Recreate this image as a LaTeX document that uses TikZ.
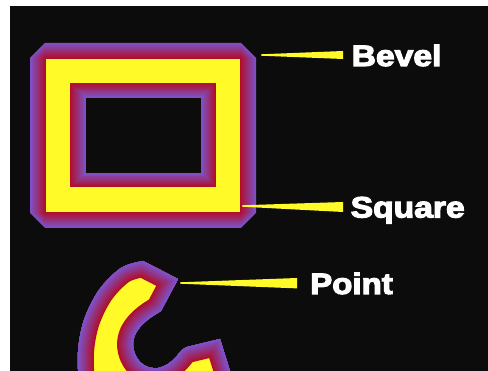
\documentclass[tikz,border=0pt]{standalone}
\usepackage{fontspec}
\newfontfamily\labfont{Liberation Sans}[BoldFeatures={FakeBold=3.6}]
\definecolor{bgc}{RGB}{12,12,12}
\definecolor{purp}{RGB}{125,82,200}
\definecolor{crim}{RGB}{176,14,42}
\definecolor{yel}{RGB}{255,250,40}
\def\Cpath{plot[smooth,tension=0.55] coordinates {(143,261) (121,268) (99,290) (84,320) (78,352) (80,385) (92,415)} -- (130,440) -- (245,420) -- (230,371) -- (220,339) -- plot[smooth,tension=0.55] coordinates {(187,347) (182,350) (175,358) (168,364) (158,368) (148,367) (140,362) (135,354) (133,345) (135,335) (141,326) (150,318) (161,311)} -- (178,279) -- cycle}
\begin{document}
\begin{tikzpicture}[x=1pt,y=-1pt,
  lab/.style={text=white, font=\labfont\bfseries\fontsize{29.5}{30}\selectfont, inner sep=0pt, anchor=base west},
  wedge/.style={fill=yel}]
\useasboundingbox (0,0) rectangle (488,371);
\fill[white] (0,0) rectangle (488,371);
\fill[bgc] (10,6) rectangle (488,371);

% beveled frame: outer gradient band
\foreach \d in {0,...,15} {
  \pgfmathsetmacro\c{15-\d}
  \pgfmathtruncatemacro\p{100*\d/15}
  \fill[crim!\p!purp] (30+\d+\c,43+\d) -- (256-\d-\c,43+\d) -- (256-\d,43+\d+\c) -- (256-\d,228-\d-\c) -- (256-\d-\c,228-\d) -- (30+\d+\c,228-\d) -- (30+\d,228-\d-\c) -- (30+\d,43+\d+\c) -- cycle;
}
\fill[yel] (46,59) rectangle (240,212);
% inner gradient band
\foreach \i in {0,...,15} {
  \pgfmathsetmacro\f{\i/16}
  \pgfmathtruncatemacro\p{100-100*\i/15}
  \fill[crim!\p!purp] (70+16*\f,83+15*\f) rectangle (216-15*\f,187-14*\f);
}
\fill[bgc] (86,98) rectangle (201,173);

% C shape
\begin{scope}
  \clip \Cpath;
  \fill[yel] (0,200) rectangle (300,450);
  \foreach \i in {16,...,1} {
    \pgfmathtruncatemacro\p{100*(\i-1)/15}
    \pgfmathsetmacro\w{2*\i}
    \draw[line width=\w pt, line join=round, crim!\p!purp] \Cpath;
  }
\end{scope}

% labels
\node[lab] (bevel) at (351.5,66) {\scalebox{1.14}[1]{Bevel}};
\node[lab] (square) at (350.5,217.5) {\scalebox{1.14}[1]{Square}};
\node[lab] (point) at (310,294) {\scalebox{1.12}[1]{Point}};

% pointer wedges
\coordinate (bvTip) at (261,55);
\coordinate (bvEnd) at (343,55);
\coordinate (sqTip) at (242,206);
\coordinate (sqEnd) at (343,207);
\coordinate (ptTip) at (180,283);
\coordinate (ptEnd) at (297,283.2);
\fill[wedge] ([yshift=0.7pt]bvTip) -- ([yshift=4pt]bvEnd) -- ([yshift=-4pt]bvEnd) -- ([yshift=-0.7pt]bvTip) -- cycle;
\fill[wedge] ([yshift=0.7pt]sqTip) -- ([yshift=5pt]sqEnd) -- ([yshift=-5pt]sqEnd) -- ([yshift=-0.7pt]sqTip) -- cycle;
\fill[wedge] ([yshift=0.7pt]ptTip) -- ([yshift=5.2pt]ptEnd) -- ([yshift=-5.2pt]ptEnd) -- ([yshift=-0.7pt]ptTip) -- cycle;
\end{tikzpicture}
\end{document}
